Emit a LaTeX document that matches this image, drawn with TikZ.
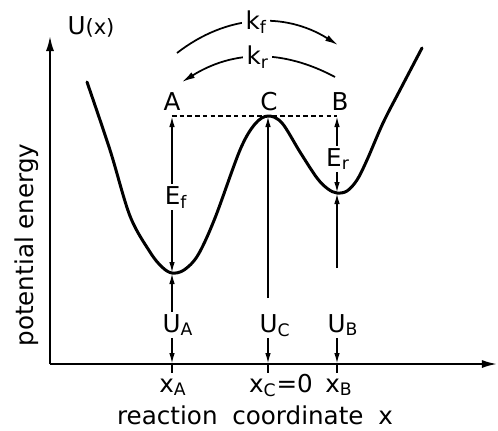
\documentclass[tikz,border=0pt]{standalone}
\usepackage{fontspec}
\setmainfont{DejaVu Sans}
\usetikzlibrary{arrows.meta}
\tikzset{
	pot/.style={line width=1.7pt, line join=round, line cap=round},
	axis/.style={line width=1.1pt, -{Latex[length=3mm, width=1.6mm]}},
	level/.style={line width=0.9pt, dash pattern=on 2.6pt off 1.8pt},
	arr/.style={line width=0.9pt, -{Latex[length=2.2mm, width=1.1mm]}},
	rate/.style={line width=1pt, -{Latex[length=2.6mm, width=1.3mm]}},
	tick/.style={line width=0.9pt},
	lbl/.style={inner sep=1pt, font=\fontsize{14}{16}\selectfont},
	klbl/.style={lbl, fill=white, inner sep=2pt}
}
\begin{document}
\begin{tikzpicture}[x=0.2mm, y=-0.2mm]
	\useasboundingbox (0,0) rectangle (498,430);
	\coordinate (o) at (50,364);
	\coordinate (ytop) at (50,36);
	\coordinate (xend) at (497,364);
	\coordinate (A) at (172,116);
	\coordinate (C) at (268,116);
	\coordinate (B) at (337,116);
	\coordinate (mA) at (172,273);
	\coordinate (mB) at (337,193);
	\coordinate (xA) at (172,364);
	\coordinate (xC) at (268,364);
	\coordinate (xB) at (337,364);
	\coordinate (cbot) at (268,298);
	\coordinate (bbot) at (337,268);
	\coordinate (kf0) at (177,53);
	\coordinate (kf1) at (338,45);
	\coordinate (kr0) at (335,77);
	\coordinate (kr1) at (182,82);

	\draw[axis] (o) -- (ytop);
	\draw[axis] (o) -- (xend);
	\draw[pot] plot[smooth, tension=0.55] coordinates {(87,82) (110,150) (130,216) (150,252) (162,267) (172,273) (184,270) (198,255) (215,218) (240,150) (255,124) (268,116) (282,123) (300,152) (317,178) (328,189) (337,193) (347,191) (357,180) (367,160) (383,123) (400,90) (422,48)};
	\draw[level] (A) -- (B);

	\node[lbl] (Ux) at (91,27) {U{\fontsize{12}{14}\selectfont(x)}};
	\node[lbl, rotate=90] (ylab) at (27,245) {potential energy};
	\node[lbl, anchor=base] (xlab) at (255,424) {reaction\hspace{0.6em}coordinate\hspace{0.6em}x};
	\node[lbl, anchor=base] (lA) at (172,110) {A};
	\node[lbl, anchor=base] (lC) at (269,110) {C};
	\node[lbl, anchor=base] (lB) at (340,110) {B};
	\node[lbl, anchor=base] (Ef) at (176,204) {E\textsubscript{f}};
	\node[lbl, anchor=base] (Er) at (338,166) {E\textsubscript{r}};
	\node[lbl, anchor=base] (UA) at (178,332) {U\textsubscript{A}};
	\node[lbl, anchor=base] (UC) at (275,332) {U\textsubscript{C}};
	\node[lbl, anchor=base] (UB) at (343,332) {U\textsubscript{B}};
	\node[lbl, anchor=base] (lxA) at (173,392) {x\textsubscript{A}};
	\node[lbl, anchor=base] (lxC) at (281,392) {x\textsubscript{C}=0};
	\node[lbl, anchor=base] (lxB) at (339,392) {x\textsubscript{B}};

	\draw[arr] (Ef.north -| A) -- (A);
	\draw[arr] (Ef.south -| A) -- (mA);
	\draw[arr] (Er.north -| B) -- (B);
	\draw[arr] (Er.south -| B) -- (mB);
	\draw[arr] (UA.north -| A) -- (mA);
	\draw[arr] (UA.south -| A) -- (xA);
	\draw[arr] (cbot) -- (C);
	\draw[arr] (UC.south -| C) -- (xC);
	\draw[arr] (bbot) -- (mB);
	\draw[arr] (UB.south -| B) -- (xB);
	\draw[tick] (xA) -- ++(0,9);
	\draw[tick] (xC) -- ++(0,9);
	\draw[tick] (xB) -- ++(0,9);

	\draw[rate] (kf0) to[bend left=35] node[klbl] (kf) {k\textsubscript{f}} (kf1);
	\draw[rate] (kr0) to[bend right=30] node[klbl] (kr) {k\textsubscript{r}} (kr1);
\end{tikzpicture}
\end{document}
